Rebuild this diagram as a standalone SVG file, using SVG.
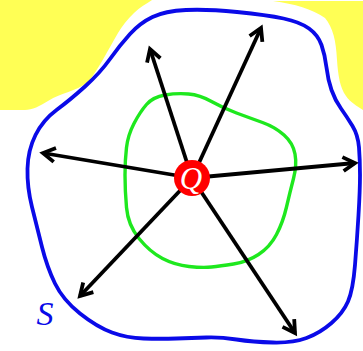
<svg xmlns="http://www.w3.org/2000/svg" width="363" height="351" viewBox="0 0 363 351">
<style>
.arrow{stroke:#000;stroke-width:3.8;fill:none;marker-end:url(#ah)}
.blue{fill:none;stroke:#0a0ae8;stroke-width:3.8;stroke-linejoin:round}
.green{fill:none;stroke:#1ee81e;stroke-width:3.4;stroke-linejoin:round}
.yellow{fill:#ffff55;stroke:none}
</style>
<defs>
<marker id="ah" markerUnits="userSpaceOnUse" markerWidth="30" markerHeight="30" viewBox="-15 -15 30 30" refX="0" refY="0" orient="auto" overflow="visible">
<path d="M-12,-7 L0,0 L-12,7" fill="none" stroke="#000" stroke-width="3.8"/>
</marker>
</defs>
<rect width="363" height="351" fill="#fff"/>
<g id="yellow-region">
<path class="yellow" d="M0,0 L152,0 C146,4 140,7 134,13 C127,20 122,26 118,33 C108,50 98,70 88,82 C75,92 62,92 48,101 C40,106 32,110 25,110 L0,110 Z"/>
<path class="yellow" d="M273,1 L363,1 L363,110 C357,106 350,102 346,96 C340,88 338,75 337,60 C336,40 333,28 325,18 C312,9 295,4 273,1 Z"/>
</g>
<g id="surface-S">
<path class="blue" d="M56.5,110 Q70,100 85,86.5 Q100,73 110,59 Q120,45 130,34 Q140,23 152.5,17 Q165,11 186,10 Q207,9 237,12 Q267,15 283.5,18.5 Q300,22 309,28.5 Q318,35 321.5,45 Q325,55 326.5,67.5 Q328,80 331.5,90 Q335,100 341,108.5 Q347,117 352.5,126 Q358,135 359,147.5 Q360,160 360,175 Q360,190 358.5,215 Q357,240 355,265 Q353,290 348,301.5 Q343,313 331.5,323 Q320,333 306.5,338 Q293,343 273,342.5 Q253,342 236.5,339.5 Q220,337 206.5,337.5 Q193,338 176.5,338.5 Q160,339 143.5,338.5 Q127,338 112,332.5 Q97,327 80,313.5 Q63,300 55,283.5 Q47,267 42,247 Q37,227 32,207 Q27,187 27.5,168.5 Q28,150 35.5,135 Q43,120 56.5,110 Z"/>
<text x="45" y="325" font-family="Liberation Serif, serif" font-style="italic" font-size="34" fill="#0a0ae8" text-anchor="middle">S</text>
</g>
<g id="inner-surface">
<path class="green" d="M146.5,104.5 Q153,97 165,95 Q177,93 188.5,94 Q200,95 211.5,101.5 Q223,108 236.5,113 Q250,118 262.5,122.5 Q275,127 284,135 Q293,143 295,154 Q297,165 293.5,178.5 Q290,192 286.5,207 Q283,222 276.5,234.5 Q270,247 258.5,254.5 Q247,262 233.5,264 Q220,266 211.5,267 Q203,268 189,266.5 Q175,265 162.5,258.5 Q150,252 139,238.5 Q128,225 126.5,207.5 Q125,190 125,175 Q125,160 126.5,147.5 Q128,135 134,123.5 Q140,112 146.5,104.5 Z"/>
</g>
<g id="connectors">
<line class="arrow" x1="192" y1="178" x2="150" y2="49"/>
<line class="arrow" x1="192" y1="178" x2="261" y2="28"/>
<line class="arrow" x1="192" y1="178" x2="43" y2="153"/>
<line class="arrow" x1="192" y1="178" x2="355" y2="163"/>
<line class="arrow" x1="192" y1="178" x2="80" y2="296"/>
<line class="arrow" x1="192" y1="178" x2="295" y2="333"/>
</g>
<g id="charge-Q">
<circle cx="192" cy="178" r="18" fill="#ff0000"/>
<text x="191" y="189" font-family="Liberation Serif, serif" font-style="italic" font-size="31" fill="#fff" text-anchor="middle">Q</text>
</g>
</svg>
